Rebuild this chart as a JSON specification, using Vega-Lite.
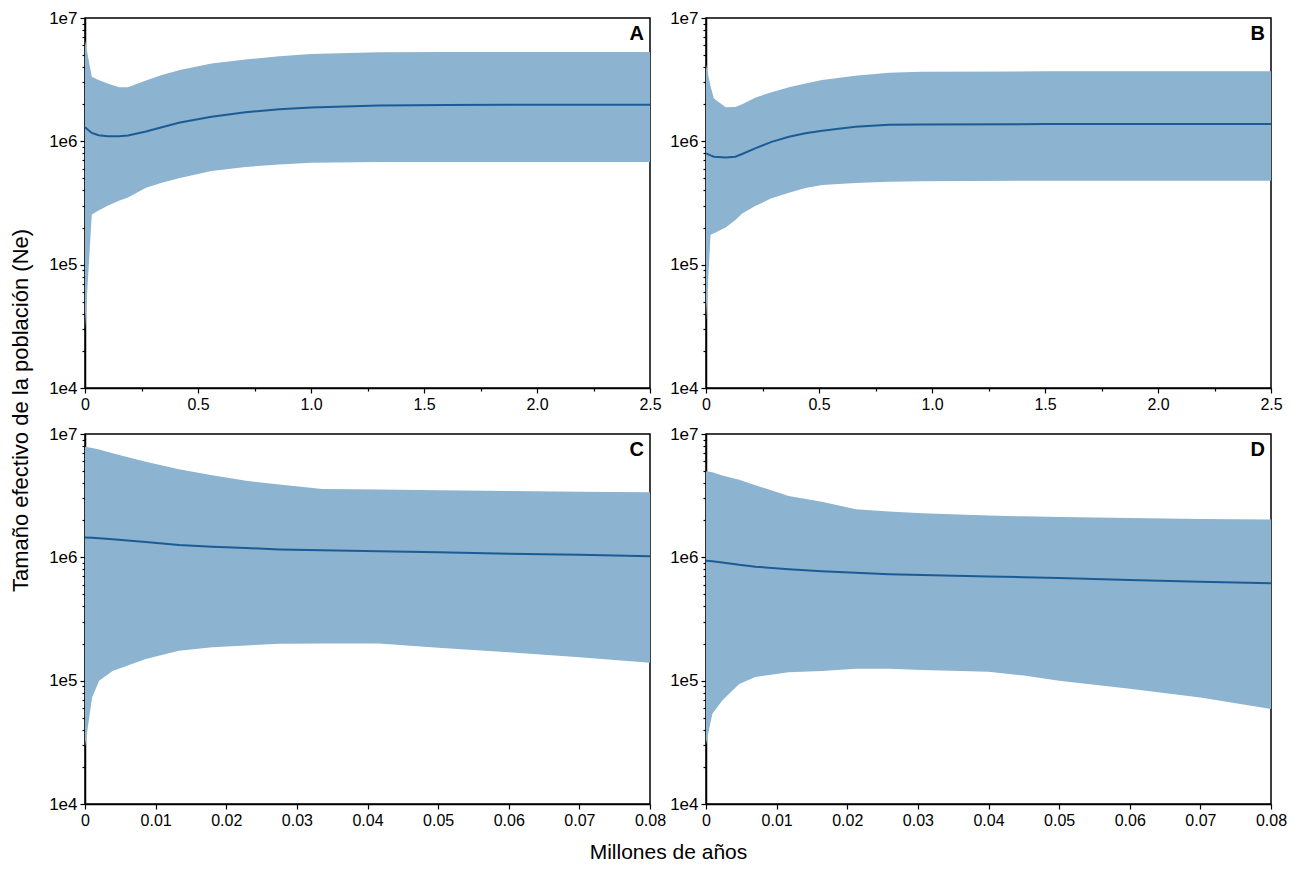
{
  "$schema": "https://vega.github.io/schema/vega-lite/v6.json",
  "padding": {"left": 8, "top": 8, "right": 20, "bottom": 8},
  "background": "white",
  "datasets": {
    "A": [
      {"t": 0, "lo": 30000, "med": 1300000, "hi": 6600000},
      {"t": 0.03, "lo": 255000, "med": 1170000, "hi": 3340000},
      {"t": 0.06, "lo": 275000, "med": 1120000, "hi": 3150000},
      {"t": 0.1, "lo": 300000, "med": 1100000, "hi": 2950000},
      {"t": 0.15, "lo": 330000, "med": 1100000, "hi": 2750000},
      {"t": 0.19, "lo": 350000, "med": 1115000, "hi": 2740000},
      {"t": 0.27, "lo": 420000, "med": 1200000, "hi": 3120000},
      {"t": 0.34, "lo": 462000, "med": 1300000, "hi": 3450000},
      {"t": 0.42, "lo": 505000, "med": 1420000, "hi": 3780000},
      {"t": 0.56, "lo": 575000, "med": 1580000, "hi": 4280000},
      {"t": 0.71, "lo": 620000, "med": 1720000, "hi": 4600000},
      {"t": 0.86, "lo": 650000, "med": 1820000, "hi": 4900000},
      {"t": 1.0, "lo": 670000, "med": 1880000, "hi": 5100000},
      {"t": 1.3, "lo": 680000, "med": 1950000, "hi": 5270000},
      {"t": 1.6, "lo": 680000, "med": 1970000, "hi": 5300000},
      {"t": 2.0, "lo": 680000, "med": 1980000, "hi": 5300000},
      {"t": 2.5, "lo": 680000, "med": 1980000, "hi": 5300000}
    ],
    "B": [
      {"t": 0, "lo": 35000, "med": 800000, "hi": 4200000},
      {"t": 0.02, "lo": 175000, "med": 770000, "hi": 2800000},
      {"t": 0.035, "lo": 180000, "med": 750000, "hi": 2230000},
      {"t": 0.087, "lo": 200000, "med": 740000, "hi": 1890000},
      {"t": 0.13, "lo": 230000, "med": 750000, "hi": 1900000},
      {"t": 0.16, "lo": 260000, "med": 790000, "hi": 2000000},
      {"t": 0.22, "lo": 300000, "med": 880000, "hi": 2270000},
      {"t": 0.29, "lo": 345000, "med": 990000, "hi": 2500000},
      {"t": 0.367, "lo": 383000, "med": 1090000, "hi": 2740000},
      {"t": 0.44, "lo": 418000, "med": 1165000, "hi": 2950000},
      {"t": 0.514, "lo": 443000, "med": 1220000, "hi": 3140000},
      {"t": 0.661, "lo": 460000, "med": 1310000, "hi": 3400000},
      {"t": 0.808, "lo": 470000, "med": 1360000, "hi": 3600000},
      {"t": 0.954, "lo": 475000, "med": 1370000, "hi": 3660000},
      {"t": 1.5, "lo": 480000, "med": 1380000, "hi": 3700000},
      {"t": 2.0, "lo": 480000, "med": 1380000, "hi": 3700000},
      {"t": 2.5, "lo": 480000, "med": 1380000, "hi": 3700000}
    ],
    "C": [
      {"t": 0, "lo": 29000, "med": 1450000, "hi": 7900000},
      {"t": 0.001, "lo": 73000, "med": 1440000, "hi": 7700000},
      {"t": 0.002, "lo": 100000, "med": 1430000, "hi": 7500000},
      {"t": 0.0039, "lo": 120000, "med": 1400000, "hi": 6970000},
      {"t": 0.0086, "lo": 150000, "med": 1330000, "hi": 5960000},
      {"t": 0.0133, "lo": 175000, "med": 1260000, "hi": 5190000},
      {"t": 0.018, "lo": 187000, "med": 1220000, "hi": 4640000},
      {"t": 0.0228, "lo": 193000, "med": 1190000, "hi": 4170000},
      {"t": 0.0275, "lo": 199000, "med": 1160000, "hi": 3900000},
      {"t": 0.0336, "lo": 200000, "med": 1140000, "hi": 3580000},
      {"t": 0.0416, "lo": 200000, "med": 1120000, "hi": 3550000},
      {"t": 0.05, "lo": 185000, "med": 1100000, "hi": 3500000},
      {"t": 0.06, "lo": 170000, "med": 1070000, "hi": 3450000},
      {"t": 0.07, "lo": 155000, "med": 1050000, "hi": 3400000},
      {"t": 0.08, "lo": 140000, "med": 1020000, "hi": 3370000}
    ],
    "D": [
      {"t": 0, "lo": 30500, "med": 940000, "hi": 5000000},
      {"t": 0.0009, "lo": 54000, "med": 930000, "hi": 4900000},
      {"t": 0.0023, "lo": 69000, "med": 910000, "hi": 4600000},
      {"t": 0.0047, "lo": 94000, "med": 870000, "hi": 4250000},
      {"t": 0.007, "lo": 107000, "med": 840000, "hi": 3850000},
      {"t": 0.0117, "lo": 117000, "med": 800000, "hi": 3150000},
      {"t": 0.0164, "lo": 120000, "med": 770000, "hi": 2820000},
      {"t": 0.0212, "lo": 125000, "med": 750000, "hi": 2450000},
      {"t": 0.0259, "lo": 125000, "med": 730000, "hi": 2350000},
      {"t": 0.0306, "lo": 122000, "med": 718000, "hi": 2280000},
      {"t": 0.04, "lo": 118000, "med": 700000, "hi": 2180000},
      {"t": 0.045, "lo": 110000, "med": 690000, "hi": 2150000},
      {"t": 0.05, "lo": 100000, "med": 680000, "hi": 2120000},
      {"t": 0.06, "lo": 86000, "med": 655000, "hi": 2080000},
      {"t": 0.07, "lo": 73000, "med": 635000, "hi": 2050000},
      {"t": 0.08, "lo": 59000, "med": 615000, "hi": 2030000}
    ],
    "labels": [
      {"panel": "A", "t": 2.5, "v": 10000000},
      {"panel": "B", "t": 2.5, "v": 10000000},
      {"panel": "C", "t": 0.08, "v": 10000000},
      {"panel": "D", "t": 0.08, "v": 10000000}
    ]
  },
  "columns": 2,
  "spacing": {"row": 46, "column": 56},
  "bounds": "flush",
  "concat": [
    {
      "width": 565, "height": 370,
      "layer": [
        {"data": {"name": "A"}, "mark": {"type": "area", "color": "#8cb3cf", "opacity": 1},
          "encoding": {
            "x": {"field": "t", "type": "quantitative", "title": null,
              "scale": {"domain": [0, 2.5], "nice": false, "zero": false},
              "axis": {"values": [0, 0.25, 0.5, 0.75, 1, 1.25, 1.5, 1.75, 2, 2.25, 2.5], "labelFlush": false, "labelOverlap": false,
                "labelExpr": "datum.value % 0.5 == 0 ? (datum.value == 0 ? '0' : format(datum.value, '.1f')) : ''",
                "tickSize": {"condition": {"test": "datum.value % 0.5 == 0", "value": 5}, "value": 3}}},
            "y": {"field": "lo", "type": "quantitative", "title": "Tamaño efectivo de la población (Ne)",
              "scale": {"type": "log", "domain": [10000, 10000000], "nice": false},
              "axis": {"values": [10000, 20000, 30000, 40000, 50000, 60000, 70000, 80000, 90000, 100000, 200000, 300000, 400000, 500000, 600000, 700000, 800000, 900000, 1000000, 2000000, 3000000, 4000000, 5000000, 6000000, 7000000, 8000000, 9000000, 10000000],
                "labelOverlap": false, "labelFlush": false,
                "labelExpr": "indexof([10000,100000,1000000,10000000], datum.value) >= 0 ? '1e' + round(log(datum.value)/LN10) : ''",
                "tickSize": {"condition": {"test": "indexof([10000,100000,1000000,10000000], datum.value) >= 0", "value": 5}, "value": 3},
                "titleY": 392, "titlePadding": 16}},
            "y2": {"field": "hi"}
          }},
        {"data": {"name": "A"}, "mark": {"type": "line", "color": "#1c5c96", "strokeWidth": 2},
          "encoding": {"x": {"field": "t", "type": "quantitative", "title": null}, "y": {"field": "med", "type": "quantitative", "title": "Tamaño efectivo de la población (Ne)"}}},
        {"data": {"name": "labels"}, "transform": [{"filter": "datum.panel == 'A'"}],
          "mark": {"type": "text", "align": "right", "baseline": "top", "dx": -6, "dy": 6, "fontSize": 20, "fontWeight": "bold", "font": "Liberation Sans", "color": "#000"},
          "encoding": {"x": {"field": "t", "type": "quantitative", "title": null}, "y": {"field": "v", "type": "quantitative", "title": "Tamaño efectivo de la población (Ne)"}, "text": {"field": "panel"}}}
      ]
    },
    {
      "width": 565, "height": 370,
      "layer": [
        {"data": {"name": "B"}, "mark": {"type": "area", "color": "#8cb3cf", "opacity": 1},
          "encoding": {
            "x": {"field": "t", "type": "quantitative", "title": null,
              "scale": {"domain": [0, 2.5], "nice": false, "zero": false},
              "axis": {"values": [0, 0.25, 0.5, 0.75, 1, 1.25, 1.5, 1.75, 2, 2.25, 2.5], "labelFlush": false, "labelOverlap": false,
                "labelExpr": "datum.value % 0.5 == 0 ? (datum.value == 0 ? '0' : format(datum.value, '.1f')) : ''",
                "tickSize": {"condition": {"test": "datum.value % 0.5 == 0", "value": 5}, "value": 3}}},
            "y": {"field": "lo", "type": "quantitative", "title": null,
              "scale": {"type": "log", "domain": [10000, 10000000], "nice": false},
              "axis": {"values": [10000, 20000, 30000, 40000, 50000, 60000, 70000, 80000, 90000, 100000, 200000, 300000, 400000, 500000, 600000, 700000, 800000, 900000, 1000000, 2000000, 3000000, 4000000, 5000000, 6000000, 7000000, 8000000, 9000000, 10000000],
                "labelOverlap": false, "labelFlush": false,
                "labelExpr": "indexof([10000,100000,1000000,10000000], datum.value) >= 0 ? '1e' + round(log(datum.value)/LN10) : ''",
                "tickSize": {"condition": {"test": "indexof([10000,100000,1000000,10000000], datum.value) >= 0", "value": 5}, "value": 3}}},
            "y2": {"field": "hi"}
          }},
        {"data": {"name": "B"}, "mark": {"type": "line", "color": "#1c5c96", "strokeWidth": 2},
          "encoding": {"x": {"field": "t", "type": "quantitative", "title": null}, "y": {"field": "med", "type": "quantitative", "title": null}}},
        {"data": {"name": "labels"}, "transform": [{"filter": "datum.panel == 'B'"}],
          "mark": {"type": "text", "align": "right", "baseline": "top", "dx": -6, "dy": 6, "fontSize": 20, "fontWeight": "bold", "font": "Liberation Sans", "color": "#000"},
          "encoding": {"x": {"field": "t", "type": "quantitative", "title": null}, "y": {"field": "v", "type": "quantitative", "title": null}, "text": {"field": "panel"}}}
      ]
    },
    {
      "width": 565, "height": 370,
      "layer": [
        {"data": {"name": "C"}, "mark": {"type": "area", "color": "#8cb3cf", "opacity": 1},
          "encoding": {
            "x": {"field": "t", "type": "quantitative", "title": "Millones de años",
              "scale": {"domain": [0, 0.08], "nice": false, "zero": false},
              "axis": {"values": [0, 0.005, 0.01, 0.015, 0.02, 0.025, 0.03, 0.035, 0.04, 0.045, 0.05, 0.055, 0.06, 0.065, 0.07, 0.075, 0.08], "labelFlush": false, "labelOverlap": false,
                "labelExpr": "abs(datum.value*100 - round(datum.value*100)) < 0.000001 ? (datum.value == 0 ? '0' : format(datum.value, '.2f')) : ''",
                "tickSize": {"condition": {"test": "abs(datum.value*100 - round(datum.value*100)) < 0.000001", "value": 5}, "value": 3},
                "titleX": 583, "titleY": 37}},
            "y": {"field": "lo", "type": "quantitative", "title": null,
              "scale": {"type": "log", "domain": [10000, 10000000], "nice": false},
              "axis": {"values": [10000, 20000, 30000, 40000, 50000, 60000, 70000, 80000, 90000, 100000, 200000, 300000, 400000, 500000, 600000, 700000, 800000, 900000, 1000000, 2000000, 3000000, 4000000, 5000000, 6000000, 7000000, 8000000, 9000000, 10000000],
                "labelOverlap": false, "labelFlush": false,
                "labelExpr": "indexof([10000,100000,1000000,10000000], datum.value) >= 0 ? '1e' + round(log(datum.value)/LN10) : ''",
                "tickSize": {"condition": {"test": "indexof([10000,100000,1000000,10000000], datum.value) >= 0", "value": 5}, "value": 3}}},
            "y2": {"field": "hi"}
          }},
        {"data": {"name": "C"}, "mark": {"type": "line", "color": "#1c5c96", "strokeWidth": 2},
          "encoding": {"x": {"field": "t", "type": "quantitative", "title": "Millones de años"}, "y": {"field": "med", "type": "quantitative", "title": null}}},
        {"data": {"name": "labels"}, "transform": [{"filter": "datum.panel == 'C'"}],
          "mark": {"type": "text", "align": "right", "baseline": "top", "dx": -6, "dy": 6, "fontSize": 20, "fontWeight": "bold", "font": "Liberation Sans", "color": "#000"},
          "encoding": {"x": {"field": "t", "type": "quantitative", "title": "Millones de años"}, "y": {"field": "v", "type": "quantitative", "title": null}, "text": {"field": "panel"}}}
      ]
    },
    {
      "width": 565, "height": 370,
      "layer": [
        {"data": {"name": "D"}, "mark": {"type": "area", "color": "#8cb3cf", "opacity": 1},
          "encoding": {
            "x": {"field": "t", "type": "quantitative", "title": null,
              "scale": {"domain": [0, 0.08], "nice": false, "zero": false},
              "axis": {"values": [0, 0.005, 0.01, 0.015, 0.02, 0.025, 0.03, 0.035, 0.04, 0.045, 0.05, 0.055, 0.06, 0.065, 0.07, 0.075, 0.08], "labelFlush": false, "labelOverlap": false,
                "labelExpr": "abs(datum.value*100 - round(datum.value*100)) < 0.000001 ? (datum.value == 0 ? '0' : format(datum.value, '.2f')) : ''",
                "tickSize": {"condition": {"test": "abs(datum.value*100 - round(datum.value*100)) < 0.000001", "value": 5}, "value": 3}}},
            "y": {"field": "lo", "type": "quantitative", "title": null,
              "scale": {"type": "log", "domain": [10000, 10000000], "nice": false},
              "axis": {"values": [10000, 20000, 30000, 40000, 50000, 60000, 70000, 80000, 90000, 100000, 200000, 300000, 400000, 500000, 600000, 700000, 800000, 900000, 1000000, 2000000, 3000000, 4000000, 5000000, 6000000, 7000000, 8000000, 9000000, 10000000],
                "labelOverlap": false, "labelFlush": false,
                "labelExpr": "indexof([10000,100000,1000000,10000000], datum.value) >= 0 ? '1e' + round(log(datum.value)/LN10) : ''",
                "tickSize": {"condition": {"test": "indexof([10000,100000,1000000,10000000], datum.value) >= 0", "value": 5}, "value": 3}}},
            "y2": {"field": "hi"}
          }},
        {"data": {"name": "D"}, "mark": {"type": "line", "color": "#1c5c96", "strokeWidth": 2},
          "encoding": {"x": {"field": "t", "type": "quantitative", "title": null}, "y": {"field": "med", "type": "quantitative", "title": null}}},
        {"data": {"name": "labels"}, "transform": [{"filter": "datum.panel == 'D'"}],
          "mark": {"type": "text", "align": "right", "baseline": "top", "dx": -6, "dy": 6, "fontSize": 20, "fontWeight": "bold", "font": "Liberation Sans", "color": "#000"},
          "encoding": {"x": {"field": "t", "type": "quantitative", "title": null}, "y": {"field": "v", "type": "quantitative", "title": null}, "text": {"field": "panel"}}}
      ]
    }
  ],
  "config": {
    "font": "Liberation Sans",
    "view": {"stroke": "#000", "strokeWidth": 1.5},
    "axis": {
      "grid": false,
      "labelFont": "Liberation Sans", "labelFontSize": 16, "labelColor": "#000",
      "titleFont": "Liberation Sans", "titleFontSize": 21, "titleFontWeight": "normal", "titleColor": "#000",
      "domainColor": "#000", "domainWidth": 1.5, "tickColor": "#000", "tickWidth": 1.2, "labelPadding": 3
    },
    "axisY": {"labelFontSize": 17, "titleFontSize": 22}
  }
}
